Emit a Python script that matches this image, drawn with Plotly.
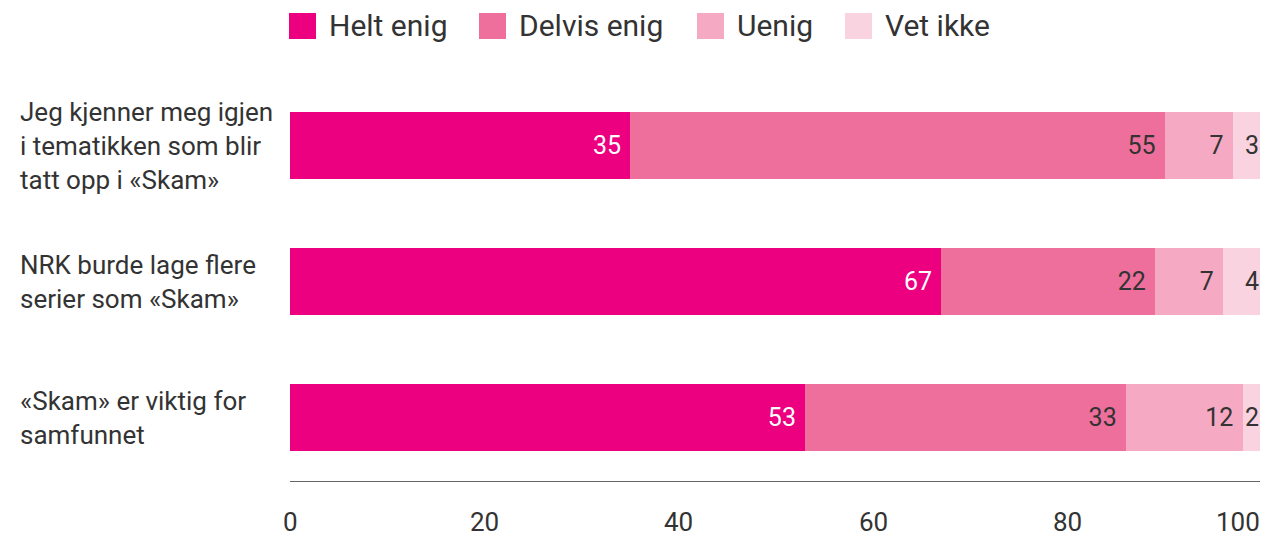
import plotly.graph_objects as go

categories = [
    "Jeg kjenner meg igjen<br>i tematikken som blir<br>tatt opp i «Skam»",
    "NRK burde lage flere<br>serier som «Skam»",
    "«Skam» er viktig for<br>samfunnet",
]
series_names = ["Helt enig", "Delvis enig", "Uenig", "Vet ikke"]
helt_enig = [35, 67, 53]
delvis_enig = [55, 22, 33]
uenig = [7, 7, 12]
vet_ikke = [3, 4, 2]
x_ticks = [0, 20, 40, 60, 80, 100]

colors = ["#EC0080", "#EF6F9C", "#F5A9C3", "#F9D3E0"]
text_colors = ["white", "#333333", "#333333", "#333333"]
FONT = "Roboto"
TXT = "#333333"

# page body adds an 8px offset, so the figure is 8px smaller
W, H = 1260, 532
L, R, T, B = 282, 6, 69, 58
PW = W - L - R
PH = H - T - B
Y_MIN, Y_MAX = -0.474, 2.504

fig = go.Figure()
all_vals = [helt_enig, delvis_enig, uenig, vet_ikke]
for i, (name, vals, col, tcol) in enumerate(zip(series_names, all_vals, colors, text_colors)):
    # extra right padding except for the thin last segment
    pad = "" if i == len(series_names) - 1 else "\u00a0"
    fig.add_trace(go.Bar(
        y=categories,
        x=vals,
        name=name,
        orientation="h",
        marker=dict(color=col, line=dict(width=0)),
        text=[f"{v}{pad}" for v in vals],
        textposition="inside",
        insidetextanchor="end",
        constraintext="none",
        textangle=0,
        textfont=dict(family=FONT, size=25, color=tcol),
        showlegend=False,
        hoverinfo="skip",
    ))

# left-aligned category labels
for cat in categories:
    fig.add_annotation(
        x=(10 - L) / PW, xref="paper", y=cat, yref="y",
        text=cat, showarrow=False, xanchor="left", yanchor="middle", align="left",
        font=dict(family=FONT, size=26, color=TXT),
    )

# x tick labels (last one kept inside the figure)
for t in x_ticks:
    fig.add_annotation(
        x=t, xref="x", y=Y_MIN, yref="y", yshift=-40,
        text=str(t), showarrow=False,
        xanchor="right" if t == x_ticks[-1] else "center", yanchor="middle",
        font=dict(family=FONT, size=26, color=TXT),
    )

# legend drawn with big squares like the original
legend_px = [281, 471, 689, 837]
legend_y = 1 + (T - 18) / PH
for name, col, px in zip(series_names, colors, legend_px):
    xp = (px - L) / PW
    fig.add_shape(type="rect", xref="paper", yref="paper",
                  xsizemode="pixel", ysizemode="pixel", xanchor=xp, yanchor=legend_y,
                  x0=0, x1=27, y0=-13, y1=13, fillcolor=col, line=dict(width=0))
    fig.add_annotation(
        x=(px + 38 - L) / PW, xref="paper", y=legend_y, yref="paper",
        text=name, showarrow=False, xanchor="left", yanchor="middle",
        font=dict(family=FONT, size=30, color=TXT),
    )

fig.update_layout(
    barmode="stack",
    bargap=0.507,
    width=W,
    height=H,
    margin=dict(l=L, r=R, t=T, b=B),
    paper_bgcolor="white",
    plot_bgcolor="white",
    showlegend=False,
    xaxis=dict(
        range=[0, 100], showgrid=False, zeroline=False, showticklabels=False,
        showline=False, fixedrange=True,
    ),
    yaxis=dict(
        categoryorder="array", categoryarray=list(reversed(categories)),
        range=[Y_MIN, Y_MAX], showticklabels=False, showgrid=False,
        zeroline=False, fixedrange=True,
    ),
)
# baseline under the bars
fig.add_shape(type="line", xref="x", yref="y", x0=0, x1=100, y0=Y_MIN, y1=Y_MIN,
              line=dict(color=TXT, width=1.5))

fig.write_html("out.html")
